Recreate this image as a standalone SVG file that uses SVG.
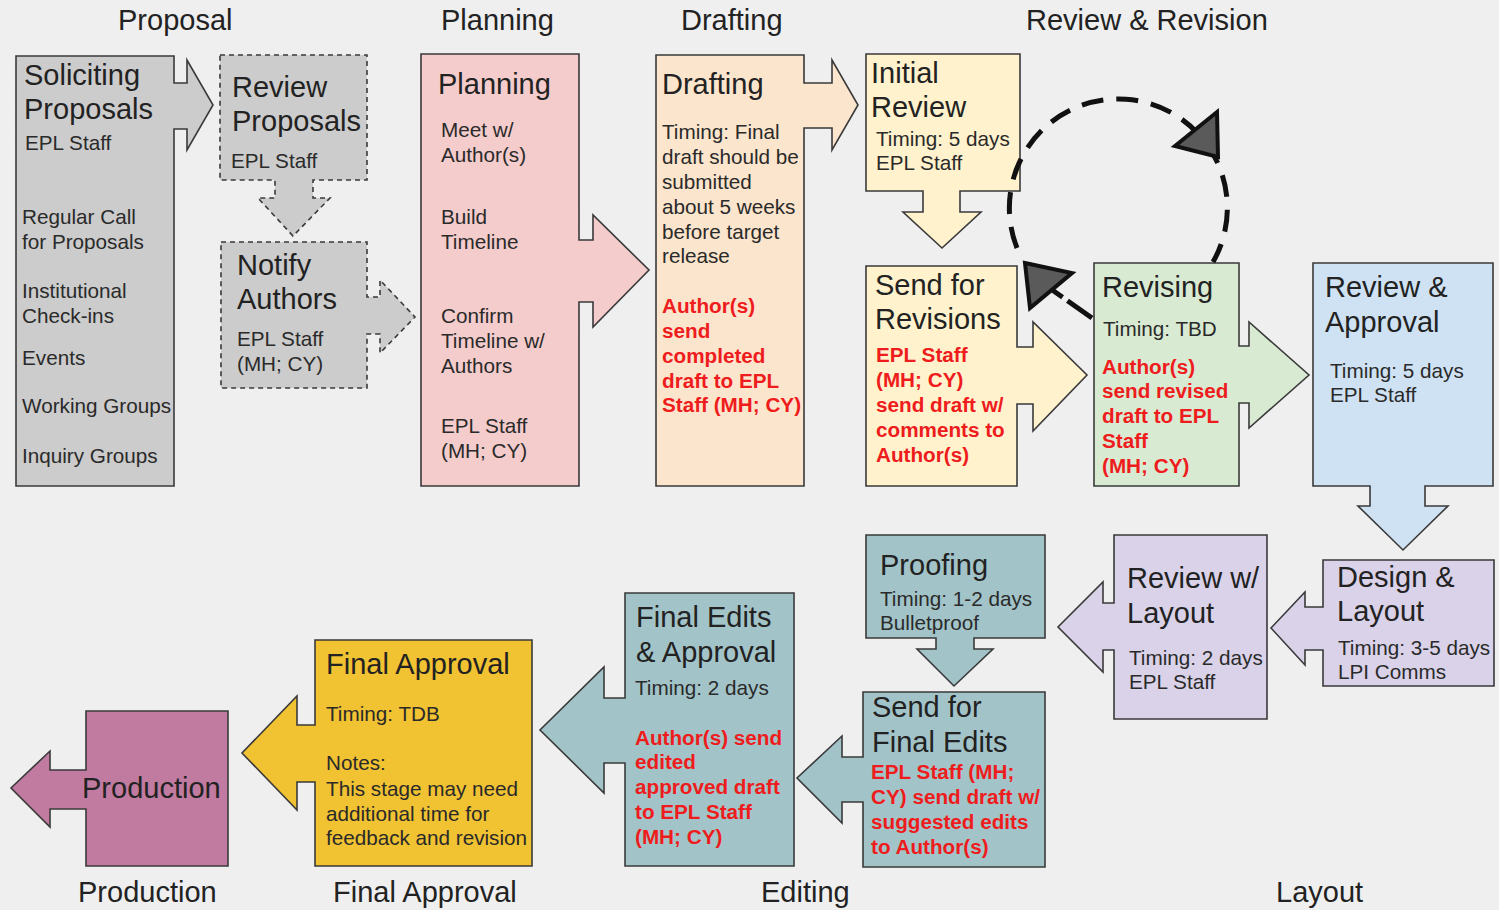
<svg xmlns="http://www.w3.org/2000/svg" width="1499" height="910" viewBox="0 0 1499 910">
<style>
.s{stroke:#3a3a3a;stroke-width:1.6;stroke-linejoin:miter}
.d{stroke-dasharray:5,4}
text{font-family:"Liberation Sans",Arial,sans-serif;fill:#222}
.h{font-size:29px}
.t{font-size:29px}
.b{font-size:20.7px;fill:#2a2a2a}
.r{font-size:20.7px;font-weight:bold;fill:#ee1c1c}
.dash{fill:none;stroke:#111;stroke-width:5;stroke-dasharray:22,13}
.ah{fill:#5a5a5a;stroke:#111;stroke-width:4;stroke-linejoin:miter}
</style>
<rect width="1499" height="910" fill="#efefef"/>

<g id="headers">
<text class="h" x="118" y="30">Proposal</text>
<text class="h" x="441" y="30">Planning</text>
<text class="h" x="681" y="30">Drafting</text>
<text class="h" x="1026" y="30">Review &amp; Revision</text>
<text class="h" x="78" y="902">Production</text>
<text class="h" x="333" y="902">Final Approval</text>
<text class="h" x="761" y="902">Editing</text>
<text class="h" x="1276" y="902">Layout</text>
</g>

<g id="soliciting">
<path class="s" fill="#cccccc" d="M16,56 H174 V83 H187 V60 L213,105 L187,150 V129 H174 V486 H16 Z"/>
<text class="t" x="24" y="85">Soliciting</text>
<text class="t" x="24" y="119">Proposals</text>
<text class="b" x="25" y="150">EPL Staff</text>
<text class="b" x="22" y="224">Regular Call</text>
<text class="b" x="22" y="249">for Proposals</text>
<text class="b" x="22" y="298">Institutional</text>
<text class="b" x="22" y="323">Check-ins</text>
<text class="b" x="22" y="365">Events</text>
<text class="b" x="22" y="413">Working Groups</text>
<text class="b" x="22" y="463">Inquiry Groups</text>
</g>

<g id="review-proposals">
<path class="s d" fill="#cccccc" d="M220,55 H367 V180 H313 V198 H330 L293,236 L258,198 H275 V180 H220 Z"/>
<text class="t" x="232" y="97">Review</text>
<text class="t" x="232" y="131">Proposals</text>
<text class="b" x="231" y="168">EPL Staff</text>
</g>

<g id="notify-authors">
<path class="s d" fill="#cccccc" d="M221,242 H367 V297 H380 V280 L415,317 L380,353 V334 H367 V388 H221 Z"/>
<text class="t" x="237" y="275">Notify</text>
<text class="t" x="237" y="309">Authors</text>
<text class="b" x="237" y="346">EPL Staff</text>
<text class="b" x="237" y="371">(MH; CY)</text>
</g>

<g id="planning">
<path class="s" fill="#f4cccc" d="M421,54 H579 V240 H593 V215 L649,270 L593,327 V302 H579 V486 H421 Z"/>
<text class="t" x="438" y="94">Planning</text>
<text class="b" x="441" y="137">Meet w/</text>
<text class="b" x="441" y="162">Author(s)</text>
<text class="b" x="441" y="224">Build</text>
<text class="b" x="441" y="249">Timeline</text>
<text class="b" x="441" y="323">Confirm</text>
<text class="b" x="441" y="348">Timeline w/</text>
<text class="b" x="441" y="373">Authors</text>
<text class="b" x="441" y="433">EPL Staff</text>
<text class="b" x="441" y="458">(MH; CY)</text>
</g>

<g id="drafting">
<path class="s" fill="#fce5cd" d="M656,55 H804 V83 H832 V60 L858,105 L832,150 V128 H804 V486 H656 Z"/>
<text class="t" x="662" y="94">Drafting</text>
<text class="b" x="662" y="139">Timing: Final</text>
<text class="b" x="662" y="164">draft should be</text>
<text class="b" x="662" y="189">submitted</text>
<text class="b" x="662" y="214">about 5 weeks</text>
<text class="b" x="662" y="239">before target</text>
<text class="b" x="662" y="263">release</text>
<text class="r" x="662" y="313">Author(s)</text>
<text class="r" x="662" y="338">send</text>
<text class="r" x="662" y="363">completed</text>
<text class="r" x="662" y="388">draft to EPL</text>
<text class="r" x="662" y="412">Staff (MH; CY)</text>
</g>

<g id="initial-review">
<path class="s" fill="#fff2cc" d="M866,54 H1020 V191 H960 V212 H981 L942,248 L903,212 H923 V191 H866 Z"/>
<text class="t" x="871" y="83">Initial</text>
<text class="t" x="871" y="117">Review</text>
<text class="b" x="876" y="146">Timing: 5 days</text>
<text class="b" x="876" y="170">EPL Staff</text>
</g>

<g id="send-for-revisions">
<path class="s" fill="#fff2cc" d="M866,266 H1017 V347 H1033 V322 L1087,375 L1033,431 V404 H1017 V486 H866 Z"/>
<text class="t" x="875" y="295">Send for</text>
<text class="t" x="875" y="329">Revisions</text>
<text class="r" x="876" y="362">EPL Staff</text>
<text class="r" x="876" y="387">(MH; CY)</text>
<text class="r" x="876" y="412">send draft w/</text>
<text class="r" x="876" y="437">comments to</text>
<text class="r" x="876" y="462">Author(s)</text>
</g>

<g id="revising">
<path class="s" fill="#d9ead3" d="M1094,263 H1239 V346 H1249 V322 L1309,375 L1249,428 V403 H1239 V486 H1094 Z"/>
<text class="t" x="1102" y="297">Revising</text>
<text class="b" x="1103" y="336">Timing: TBD</text>
<text class="r" x="1102" y="374">Author(s)</text>
<text class="r" x="1102" y="398">send revised</text>
<text class="r" x="1102" y="423">draft to EPL</text>
<text class="r" x="1102" y="448">Staff</text>
<text class="r" x="1102" y="473">(MH; CY)</text>
</g>

<g id="review-approval">
<path class="s" fill="#cfe2f3" d="M1313,263 H1493 V486 H1425 V506 H1448 L1403,550 L1358,506 H1370 V486 H1313 Z"/>
<text class="t" x="1325" y="297">Review &amp;</text>
<text class="t" x="1325" y="332">Approval</text>
<text class="b" x="1330" y="378">Timing: 5 days</text>
<text class="b" x="1330" y="402">EPL Staff</text>
</g>

<g id="design-layout">
<path class="s" fill="#d9d2e9" d="M1323,560 H1494 V686 H1323 V650 H1305 V665 L1271,628 L1305,592 V607 H1323 Z"/>
<text class="t" x="1337" y="587">Design &amp;</text>
<text class="t" x="1337" y="621">Layout</text>
<text class="b" x="1338" y="655">Timing: 3-5 days</text>
<text class="b" x="1338" y="679">LPI Comms</text>
</g>

<g id="review-layout">
<path class="s" fill="#d9d2e9" d="M1114,535 H1267 V719 H1114 V650 H1103 V672 L1058,627 L1103,582 V603 H1114 Z"/>
<text class="t" x="1127" y="588">Review w/</text>
<text class="t" x="1127" y="623">Layout</text>
<text class="b" x="1129" y="665">Timing: 2 days</text>
<text class="b" x="1129" y="689">EPL Staff</text>
</g>

<g id="proofing">
<path class="s" fill="#a2c4c9" d="M866,535 H1045 V638 H974 V649 H993 L954,686 L917,649 H936 V638 H866 Z"/>
<text class="t" x="880" y="575">Proofing</text>
<text class="b" x="880" y="606">Timing: 1-2 days</text>
<text class="b" x="880" y="630">Bulletproof</text>
</g>

<g id="send-final-edits">
<path class="s" fill="#a2c4c9" d="M863,692 H1045 V867 H863 V802 H842 V823 L797,778 L842,736 V757 H863 Z"/>
<text class="t" x="872" y="717">Send for</text>
<text class="t" x="872" y="752">Final Edits</text>
<text class="r" x="871" y="779">EPL Staff (MH;</text>
<text class="r" x="871" y="804">CY) send draft w/</text>
<text class="r" x="871" y="829">suggested edits</text>
<text class="r" x="871" y="854">to Author(s)</text>
</g>

<g id="final-edits-approval">
<path class="s" fill="#a2c4c9" d="M625,593 H794 V866 H625 V763 H604 V793 L540,730 L604,667 V698 H625 Z"/>
<text class="t" x="636" y="627">Final Edits</text>
<text class="t" x="636" y="662">&amp; Approval</text>
<text class="b" x="635" y="695">Timing: 2 days</text>
<text class="r" x="635" y="745">Author(s) send</text>
<text class="r" x="635" y="769">edited</text>
<text class="r" x="635" y="794">approved draft</text>
<text class="r" x="635" y="819">to EPL Staff</text>
<text class="r" x="635" y="844">(MH; CY)</text>
</g>

<g id="final-approval">
<path class="s" fill="#f1c232" d="M315,640 H532 V866 H315 V782 H297 V810 L242,753 L297,696 V725 H315 Z"/>
<text class="t" x="326" y="674">Final Approval</text>
<text class="b" x="326" y="721">Timing: TDB</text>
<text class="b" x="326" y="770">Notes:</text>
<text class="b" x="326" y="796">This stage may need</text>
<text class="b" x="326" y="821">additional time for</text>
<text class="b" x="326" y="845" textLength="201">feedback and revision</text>
</g>

<g id="production">
<path class="s" fill="#c27ba0" d="M86,711 H228 V866 H86 V809 H50 V827 L11,788 L50,751 V770 H86 Z"/>
<text class="t" x="82" y="798">Production</text>
</g>

<g id="connectors">
<path class="dash" d="M1017,248 A109,109 0 1 1 1213,262"/>
<path d="M1092,318 L1048,287" fill="none" stroke="#111" stroke-width="5" stroke-dasharray="30,6"/>
<polygon class="ah" points="1217,112 1218,157 1175,146"/>
<polygon class="ah" points="1025,263 1072,273 1030,308"/>
</g>
</svg>
